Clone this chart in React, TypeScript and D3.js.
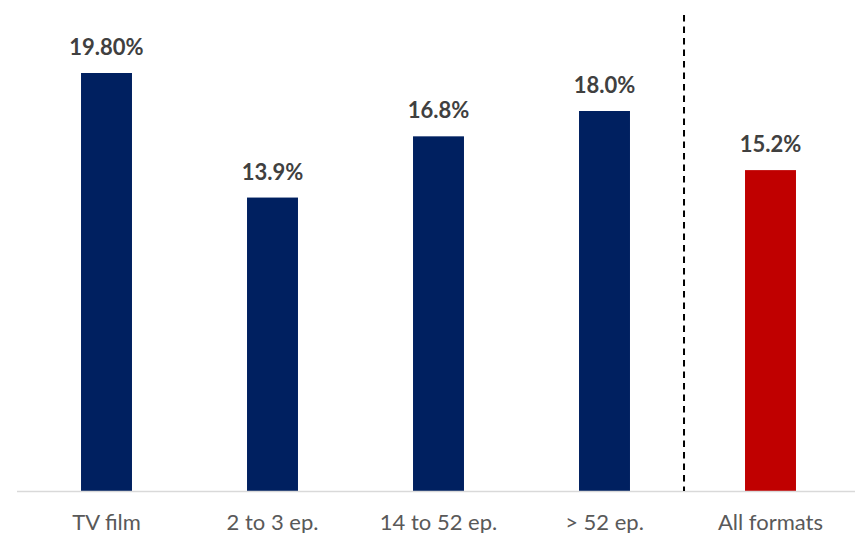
import React from "react";
import * as d3 from "d3";

const categories = ["TV film", "2 to 3 ep.", "14 to 52 ep.", "> 52 ep.", "All formats"];
const values = [19.8, 13.9, 16.8, 18.0, 15.2];
const valueLabels = ["19.80%", "13.9%", "16.8%", "18.0%", "15.2%"];
const highlight = [false, false, false, false, true];

const W = 855;
const H = 533;

export default function App() {
  const x = d3
    .scaleBand<string>()
    .domain(categories)
    .range([23.5, 853.5])
    .paddingInner(0.693)
    .paddingOuter(0.3465);
  const y = d3.scaleLinear().domain([0, 19.8]).range([491, 73]);
  const sepX = x("All formats")! - 61;

  return (
    <svg
      width={W}
      height={H}
      style={{ position: "absolute", left: 0, top: 0, background: "#fff" }}
      fontFamily="Lato, 'Open Sans', sans-serif"
    >
      {categories.map((c, i) => (
        <g key={c}>
          <rect
            x={x(c)}
            y={y(values[i])}
            width={x.bandwidth()}
            height={y(0) - y(values[i])}
            fill={highlight[i] ? "#C00000" : "#002060"}
          />
          <text
            x={x(c)! + x.bandwidth() / 2}
            y={y(values[i]) - 18}
            textAnchor="middle"
            fontWeight="bold"
            fontSize={22}
            fill="#404040"
          >
            {valueLabels[i]}
          </text>
          <text
            x={x(c)! + x.bandwidth() / 2}
            y={530}
            textAnchor="middle"
            fontSize={22}
            fill="#595959"
          >
            {c}
          </text>
        </g>
      ))}
      <line x1={17} x2={855} y1={y(0) + 0.5} y2={y(0) + 0.5} stroke="#d9d9d9" strokeWidth={1.5} />
      <line
        x1={sepX}
        x2={sepX}
        y1={15}
        y2={491}
        stroke="#000"
        strokeWidth={2}
        strokeDasharray="6.5,5"
      />
    </svg>
  );
}
